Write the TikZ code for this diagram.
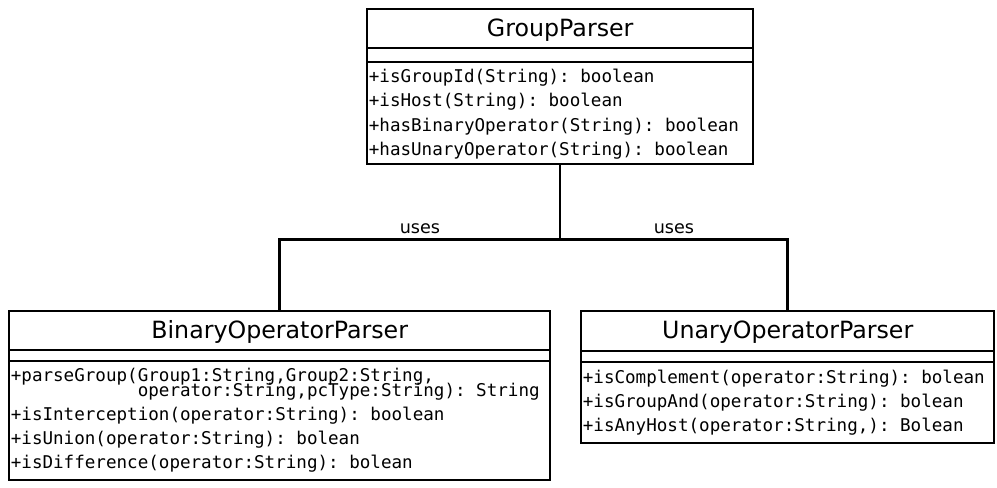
\documentclass[tikz,border=0pt]{standalone}
\usepackage{fontspec}
\setmainfont{DejaVu Sans}
\setmonofont{DejaVu Sans Mono}
\usetikzlibrary{positioning,calc}

\tikzset{
  classbox/.style={draw, line width=1.4pt, anchor=north west, inner sep=0pt},
  classname/.style={anchor=base, inner sep=0pt, font=\fontsize{13.5}{15}\selectfont},
  opsline/.style={anchor=base west, inner sep=0pt, font=\ttfamily\fontsize{10}{12}\selectfont},
  assoc/.style={line width=1.4pt},
  usestag/.style={above=2.5pt, inner sep=0pt, font=\fontsize{10}{12}\selectfont}
}

\begin{document}
\begin{tikzpicture}[x=0.02cm, y=-0.02cm]
		\useasboundingbox (0,0) rectangle (997,487);
		
		% GroupParser
		\node[classbox, minimum width=7.72cm, minimum height=3.1cm] (gp) at (366,8) {};
		\draw[assoc] ($(gp.north west)+(0,40)$) -- ($(gp.north east)+(0,40)$);
		\draw[assoc] ($(gp.north west)+(0,54)$) -- ($(gp.north east)+(0,54)$);
		\node[classname] (gpname) at ($(gp.north)+(0,28.5)$) {GroupParser};
		\foreach \txt [count=\i] in {{+isGroupId(String): boolean},
				{+isHost(String): boolean},
				{+hasBinaryOperator(String): boolean},
				{+hasUnaryOperator(String): boolean}} {
			\node[opsline] (gpm\i) at ($(gp.north west)+(2.5,{74+24.6*(\i-1)})$) {\txt};
		}
		
		% BinaryOperatorParser
		\node[classbox, minimum width=10.82cm, minimum height=3.38cm] (bop) at (8,310) {};
		\draw[assoc] ($(bop.north west)+(0,40)$) -- ($(bop.north east)+(0,40)$);
		\draw[assoc] ($(bop.north west)+(0,51)$) -- ($(bop.north east)+(0,51)$);
		\node[classname] (bopname) at ($(bop.north)+(0,28.5)$) {BinaryOperatorParser};
		\node[opsline] (bopm1) at ($(bop.north west)+(2.5,71)$) {+parseGroup(Group1:String,Group2:String,};
		\node[opsline] (bopm1b) at ($(bop.north west)+(2.5,86)$) {\phantom{+parseGroup(}operator:String,pcType:String): String};
		\foreach \txt [count=\i] in {{+isInterception(operator:String): boolean},
				{+isUnion(operator:String): bolean},
				{+isDifference(operator:String): bolean}} {
			\node[opsline] (bopm\i) at ($(bop.north west)+(2.5,{110+24.4*(\i-1)})$) {\txt};
		}
		
		% UnaryOperatorParser
		\node[classbox, minimum width=8.26cm, minimum height=2.64cm] (uop) at (580,310) {};
		\draw[assoc] ($(uop.north west)+(0,41)$) -- ($(uop.north east)+(0,41)$);
		\draw[assoc] ($(uop.north west)+(0,52)$) -- ($(uop.north east)+(0,52)$);
		\node[classname] (uopname) at ($(uop.north)+(0,28.5)$) {UnaryOperatorParser};
		\foreach \txt [count=\i] in {{+isComplement(operator:String): bolean},
				{+isGroupAnd(operator:String): bolean},
				{+isAnyHost(operator:String,): Bolean}} {
			\node[opsline] (uopm\i) at ($(uop.north west)+(2.5,{73+24*(\i-1)})$) {\txt};
		}
		
		% uses
		\coordinate (split) at ($(gp.south)+(0,74)$);
		\draw[assoc] (gp.south) -- (split) -| node[usestag, pos=0.25] {uses} (bop.north);
		\draw[assoc] (split) -| node[usestag, pos=0.25] {uses} (uop.north);
		
	\end{tikzpicture}
\end{document}
